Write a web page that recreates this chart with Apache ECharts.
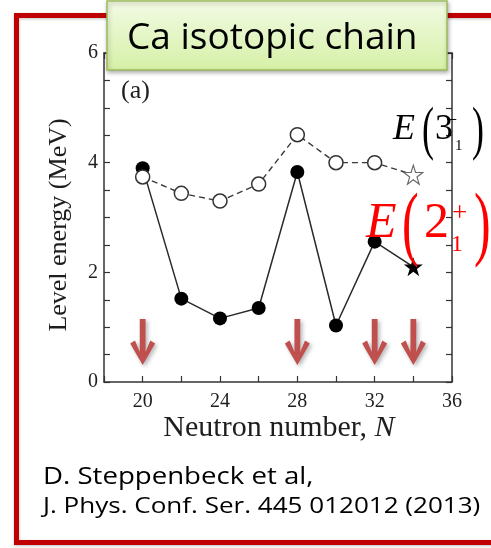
<!DOCTYPE html>
<html>
<head>
<meta charset="utf-8">
<script src="https://cdn.jsdelivr.net/npm/echarts@6.0.0/dist/echarts.min.js"></script>
<style>
  html, body { margin: 0; padding: 0; background: #ffffff; }
  #chart { width: 491px; height: 548px; }
</style>
</head>
<body>
<div id="chart"></div>
<script>
// Ca isotopes: neutron number N and first excited-state energies (MeV)
const neutronNumbers = [20, 22, 24, 26, 28, 30, 32, 34];
const e2plus  = [3.90, 1.52, 1.16, 1.35, 3.83, 1.03, 2.56, 2.10];   // E(2+_1)
const e3minus = [3.74, 3.44, 3.30, 3.61, 4.51, 4.00, 4.00, 3.78];   // E(3-_1)
// shell closures marked with arrows
const magicNumbers = [20, 28, 32, 34];
const arrowLevel = 0.73;
const xTickLabels = [20, 24, 28, 32, 36];
const yTickLabels = [0, 2, 4, 6];

const STAR = 'path://M50 0 L61.8 36.2 L100 36.3 L69.1 58.8 L80.9 95.1 L50 72.6 L19.1 95.1 L30.9 58.8 L0 36.3 L38.2 36.2 Z';
const ARROW = 'path://M9 0 L15 0 L15 33 L20 21.5 L25 24.5 L12 46 L-1 24.5 L4 21.5 L9 33 Z';

const SERIF = '"Liberation Serif", "DejaVu Serif", serif';
const SANS = '"Open Sans", "Noto Sans", sans-serif';
const AXIS = '#333333';
const last = neutronNumbers.length - 1;

function seriesData(values, isOpen) {
  return neutronNumbers.map((n, i) => {
    const item = { value: [n, values[i]] };
    if (i === last) {
      item.symbol = STAR;
      item.symbolSize = 19;
      if (isOpen) item.itemStyle = { color: '#ffffff', borderColor: '#666', borderWidth: 1.1 };
    }
    return item;
  });
}

const commonX = {
  type: 'value', min: 18, max: 36, interval: 2,
  axisLine: { show: true, onZero: false, lineStyle: { color: AXIS, width: 1.5 } },
  axisTick: { show: true, inside: true, length: 6, lineStyle: { color: AXIS, width: 1.2 } },
  splitLine: { show: false }
};
const commonY = {
  type: 'value', min: 0, max: 6, interval: 0.5,
  axisLine: { show: true, onZero: false, lineStyle: { color: AXIS, width: 1.5 } },
  axisTick: { show: true, inside: true, length: 6, lineStyle: { color: AXIS, width: 1.2 } },
  splitLine: { show: false }
};

function txt(x, y, text, size, opts) {
  opts = opts || {};
  return {
    type: 'text', x: x, y: y, z: opts.z || 20,
    rotation: opts.rotation || 0,
    scaleX: opts.scaleX || 1,
    scaleY: opts.scaleY || 1,
    style: {
      text: text,
      fill: opts.color || '#1e1e1e',
      font: (opts.italic ? 'italic ' : '') + size + 'px ' + (opts.family || SERIF),
      align: opts.align || 'left',
      verticalAlign: 'middle'
    }
  };
}

const chart = echarts.init(document.getElementById('chart'), null, { renderer: 'canvas' });

chart.setOption({
  animation: false,
  backgroundColor: '#ffffff',
  grid: { left: 104, right: 39, top: 53, bottom: 166, containLabel: false },
  xAxis: [
    Object.assign({}, commonX, {
      position: 'bottom',
      axisLabel: {
        show: true, margin: 10, color: '#1e1e1e', fontFamily: SERIF, fontSize: 20,
        formatter: v => (xTickLabels.indexOf(v) >= 0 ? String(v) : '')
      }
    }),
    Object.assign({}, commonX, { position: 'top', axisLabel: { show: false } })
  ],
  yAxis: [
    Object.assign({}, commonY, {
      position: 'left',
      axisLabel: {
        show: true, margin: 6, color: '#1e1e1e', fontFamily: SERIF, fontSize: 20,
        formatter: v => (yTickLabels.indexOf(v) >= 0 ? String(v) : '')
      }
    }),
    Object.assign({}, commonY, { position: 'right', axisLabel: { show: false } })
  ],
  series: [
    {
      name: 'E(2+)', type: 'line', xAxisIndex: 0, yAxisIndex: 0,
      data: seriesData(e2plus, false),
      symbol: 'circle', symbolSize: 14,
      lineStyle: { color: '#2a2a2a', width: 1.5 },
      itemStyle: { color: '#000000' },
      z: 3
    },
    {
      name: 'E(3-)', type: 'line', xAxisIndex: 0, yAxisIndex: 0,
      data: seriesData(e3minus, true),
      symbol: 'circle', symbolSize: 14,
      lineStyle: { color: '#3a3a3a', width: 1.4, type: [6, 4] },
      itemStyle: { color: '#ffffff', borderColor: '#333333', borderWidth: 1.5 },
      z: 4
    },
    {
      name: 'magic', type: 'scatter', xAxisIndex: 0, yAxisIndex: 0,
      data: magicNumbers.map(n => [n, arrowLevel]),
      symbol: ARROW, symbolSize: [25, 46], symbolKeepAspect: false,
      itemStyle: {
        color: '#c0504d', opacity: 1,
        shadowBlur: 4, shadowColor: 'rgba(0,0,0,0.3)', shadowOffsetX: 2, shadowOffsetY: 2
      },
      z: 2
    }
  ],
  graphic: [
    // outer frame
    {
      type: 'rect', z: 1,
      shape: { x: 16.5, y: 15.5, width: 490, height: 527 },
      style: { fill: 'none', stroke: '#c00000', lineWidth: 5,
               shadowBlur: 3, shadowColor: 'rgba(0,0,0,0.25)', shadowOffsetY: 1 }
    },
    // title box
    {
      type: 'rect', z: 30,
      shape: { x: 107, y: 1, width: 340, height: 69 },
      style: {
        fill: { type: 'linear', x: 0, y: 0, x2: 0, y2: 1,
                colorStops: [{ offset: 0, color: '#f3fbe5' }, { offset: 1, color: '#d5f0a6' }] },
        stroke: '#9cbb5a', lineWidth: 1.5,
        shadowBlur: 4, shadowColor: 'rgba(0,0,0,0.3)', shadowOffsetX: 1, shadowOffsetY: 2
      }
    },
    txt(127, 38, 'Ca isotopic chain', 37, { family: SANS, color: '#000000', z: 31 }),
    // panel tag
    txt(121, 91, '(a)', 26, {}),
    // axis titles
    txt(59, 225, 'Level energy (MeV)', 26, { rotation: Math.PI / 2, align: 'center' }),
    {
      type: 'text', x: 279, y: 428, z: 20,
      style: {
        text: '{r|Neutron number, }{i|N}',
        align: 'center', verticalAlign: 'middle',
        rich: {
          r: { font: '30px ' + SERIF, fill: '#1e1e1e' },
          i: { font: 'italic 30px ' + SERIF, fill: '#1e1e1e' }
        }
      }
    },
    // E(3-_1) legend label
    txt(393, 130, 'E', 36, { italic: true, color: '#000' }),
    txt(422, 132, '(', 36, { color: '#000', scaleY: 1.65 }),
    txt(435, 130, '3', 36, { color: '#000' }),
    txt(446, 121, '\u2212', 20, { color: '#000' }),
    txt(455, 146, '1', 15, { color: '#000' }),
    txt(472, 132, ')', 36, { color: '#000', scaleY: 1.65 }),
    // E(2+_1) legend label
    txt(366, 224, 'E', 50, { italic: true, color: '#ff0000' }),
    txt(402, 228, '(', 50, { color: '#ff0000', scaleY: 1.65 }),
    txt(424, 224, '2', 50, { color: '#ff0000' }),
    txt(452, 214, '+', 27, { color: '#ff0000' }),
    txt(451, 245, '1', 24, { color: '#ff0000' }),
    txt(474, 228, ')', 50, { color: '#ff0000', scaleY: 1.65 }),
    // reference
    txt(43, 477, 'D. Steppenbeck et al,', 23, { family: SANS, color: '#000', scaleX: 1.2 }),
    txt(43, 507, 'J. Phys. Conf. Ser. 445 012012 (2013)', 21, { family: SANS, color: '#000', scaleX: 1.24 })
  ]
});
</script>
</body>
</html>
